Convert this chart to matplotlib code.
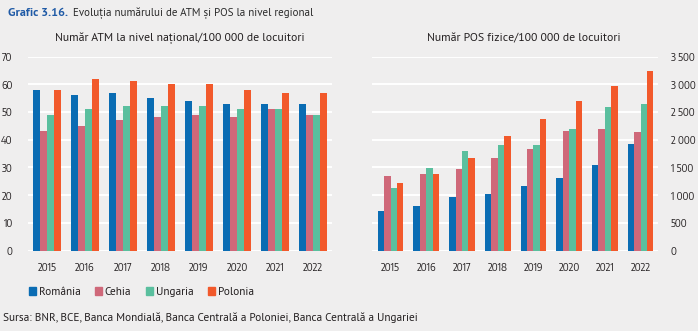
"""Grafic 3.16: numarul de ATM si POS la nivel regional."""

import matplotlib.pyplot as plt
import matplotlib.font_manager as fm
from matplotlib.textpath import TextPath
import numpy as np

# date
years = ["2015", "2016", "2017", "2018", "2019", "2020", "2021", "2022"]
countries = ["România", "Cehia", "Ungaria", "Polonia"]

atm_romania = [58, 56, 57, 55, 54, 53, 53, 53]
atm_cehia = [43, 45, 47, 48, 49, 48, 51, 49]
atm_ungaria = [49, 51, 52, 52, 52, 51, 51, 49]
atm_polonia = [58, 62, 61, 60, 60, 58, 57, 57]

pos_romania = [710, 806, 974, 1022, 1167, 1311, 1540, 1924]
pos_cehia = [1347, 1389, 1479, 1672, 1840, 2147, 2189, 2129]
pos_ungaria = [1119, 1491, 1804, 1906, 1912, 2189, 2580, 2646]
pos_polonia = [1215, 1389, 1660, 2063, 2381, 2706, 2971, 3247]

colors = ["#0a6cb3", "#cf6879", "#5abf9e", "#f2592b"]
bg = "#efeeee"
text_color = "#231f20"


def _pick_font(candidates, fallback):
    """Primul font din lista care are si regular si bold."""
    fonts = fm.fontManager.ttflist
    for name in candidates:
        regular = [f for f in fonts if f.name == name and f.style == "normal"
                   and f.weight in (400, "normal", "regular")]
        bold = [f for f in fonts if f.name == name and f.style == "normal"
                and f.weight in (600, 700, "bold", "semibold")]
        if regular and bold:
            return name
    return fallback


def _ink(text, family):
    """Latimea si inaltimea desenului textului la marimea 1."""
    ext = TextPath((0, 0), text, size=1, prop=fm.FontProperties(family=family)).get_extents()
    return ext.width, ext.height


def _pick_tick_font(target_ratio):
    """Fontul ingust ale carui cifre au proportia din referinta (Myriad Condensed)."""
    best, best_err = "Liberation Sans", None
    names = {f.name for f in fm.fontManager.ttflist
             if f.style == "normal" and f.weight in (400, "normal", "regular")
             and any(k in f.name.lower() for k in ("condensed", "narrow"))
             and "mono" not in f.name.lower() and "serif" not in f.name.lower()}
    for name in sorted(names):
        try:
            w, h = _ink("2015", name)
        except Exception:
            continue
        if h <= 0:
            continue
        err = abs(w / h - target_ratio)
        if best_err is None or err < best_err:
            best, best_err = name, err
    return best


TEXT_FONT = _pick_font(["PT Sans", "Asap", "Barlow Semi Condensed", "Fira Sans Condensed",
                        "Open Sans"], "Liberation Sans")
TICK_FONT = _pick_tick_font(18.7 / 7.7)
plt.rcParams["font.family"] = [TEXT_FONT, "DejaVu Sans"]

fig = plt.figure(figsize=(6.98, 3.31), dpi=100, facecolor=bg)
renderer = fig.canvas.get_renderer()


def fit_size(text, width_px, base=9, **kw):
    """Marimea fontului astfel incat textul sa aiba latimea din referinta."""
    t = fig.text(0, 0, text, fontsize=base, **kw)
    w = t.get_window_extent(renderer).width
    t.remove()
    return base * width_px / w


tick_kw = {"family": [TICK_FONT, "DejaVu Sans"]}
# inaltimea cifrelor in referinta: ~7.7 px
tick_size = 7.7 / (_ink("2015", TICK_FONT)[1] * 100 / 72)


def fmt_thousands(v):
    return f"{int(v):,}".replace(",", " ")


def draw_bars(ax, series, ylim, yticks, ylabels, xlim):
    x = np.arange(len(years))
    w = 0.18
    for i, vals in enumerate(series):
        ax.bar(x + (i - 1.5) * w, vals, width=w, color=colors[i], zorder=3)
    ax.set_facecolor(bg)
    ax.set_xlim(*xlim)
    ax.set_ylim(*ylim)
    ax.set_yticks(yticks)
    ax.set_yticklabels(ylabels, fontsize=tick_size, color=text_color, **tick_kw)
    ax.set_xticks(x)
    ax.set_xticklabels(years, fontsize=tick_size, color=text_color, **tick_kw)
    ax.tick_params(axis="x", length=0, pad=8)
    ax.tick_params(axis="y", length=0)
    ax.grid(axis="y", color="white", linewidth=1.4, zorder=0)
    for s in ax.spines.values():
        s.set_visible(False)


ax1 = fig.add_axes([28 / 698, 1 - 250.5 / 331, 304 / 698, 194 / 331])
draw_bars(
    ax1,
    [atm_romania, atm_cehia, atm_ungaria, atm_polonia],
    (0, 70),
    range(0, 71, 10),
    [str(v) for v in range(0, 71, 10)],
    (-0.5, 7.5),
)
ax1.tick_params(axis="y", pad=11)

ax2 = fig.add_axes([372 / 698, 1 - 250.5 / 331, 286 / 698, 194 / 331])
draw_bars(
    ax2,
    [pos_romania, pos_cehia, pos_ungaria, pos_polonia],
    (0, 3500),
    range(0, 3501, 500),
    [fmt_thousands(v) for v in range(0, 3501, 500)],
    (-0.52, 7.49),
)
ax2.yaxis.tick_right()
ax2.tick_params(axis="y", pad=9)

title_size = fit_size("Evoluția numărului de ATM și POS la nivel regional", 241)
bold_size = fit_size("Grafic 3.16.", 60, fontweight="bold")
fig.text(8 / 698, 0.962, "Grafic 3.16.", fontsize=bold_size, fontweight="bold",
         color="#1f5aa6", va="center")
fig.text(73 / 698, 0.962, "Evoluția numărului de ATM și POS la nivel regional",
         fontsize=title_size, color="#2a2a2a", va="center")

sub_size = fit_size("Număr ATM la nivel național/100 000 de locuitori", 250)
fig.text(180 / 698, 1 - 38 / 331, "Număr ATM la nivel național/100 000 de locuitori",
         fontsize=sub_size, color=text_color, ha="center", va="center")
fig.text(524 / 698, 1 - 38 / 331, "Număr POS fizice/100 000 de locuitori",
         fontsize=sub_size, color=text_color, ha="center", va="center")

leg_size = fit_size("România", 42)
leg_px = leg_size * 100 / 72
handles = [plt.Rectangle((0, 0), 1, 1, color=c) for c in colors]
fig.legend(handles, countries, loc="center left", bbox_to_anchor=(29 / 698, 1 - 292 / 331),
           ncol=4, frameon=False, fontsize=leg_size, borderaxespad=0, borderpad=0,
           handlelength=7 / leg_px, handleheight=7 / leg_px,
           handletextpad=2.5 / leg_px, columnspacing=15 / leg_px, labelcolor=text_color)

src = "Sursa: BNR, BCE, Banca Mondială, Banca Centrală a Poloniei, Banca Centrală a Ungariei"
fig.text(3 / 698, 1 - 318 / 331, src, fontsize=fit_size(src, 414), color=text_color, va="center")

fig.savefig("out.png", dpi=100, facecolor=bg)
